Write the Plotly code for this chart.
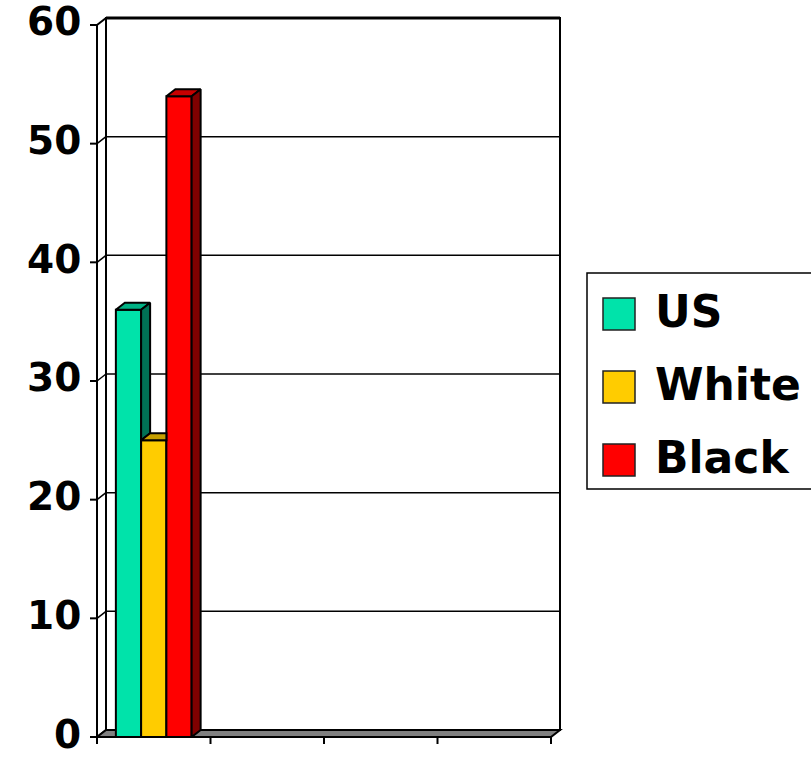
import plotly.graph_objects as go

# ---- data -------------------------------------------------------------
CATEGORY_POS = [0, 1, 2, 3]
SERIES = ["US", "White", "Black"]
US = [36, None, None, None]
WHITE = [25, None, None, None]
BLACK = [54, None, None, None]
Y_TICKS = [0, 10, 20, 30, 40, 50, 60]
COLORS = ["#00E3AA", "#FFCC00", "#FF0000"]

VALUES = [US, WHITE, BLACK]

# ---- geometry (pixels) ------------------------------------------------
W, H = 811, 758
PL, PR, PT, PB = 85, 563, 16, 747          # plot area edges
X0_PX, Y0_PX = 97, 737                     # front-left corner of the floor
UX = 113.5                                  # px per category
UY = 11.867                                 # px per y unit
DX_PX, DY_PX = 9, 7                         # 3-D depth offset

DXd = DX_PX / UX
DYd = DY_PX / UY
X_LO = -0.5 - (X0_PX - PL) / UX
X_HI = -0.5 + (PR - X0_PX) / UX
Y_LO = -(PB - Y0_PX) / UY
Y_HI = (Y0_PX - PT) / UY
Y_MAX = Y_TICKS[-1]
X_EDGES = [c - 0.5 for c in CATEGORY_POS] + [CATEGORY_POS[-1] + 0.5]
BAR_W = 0.2225

LABEL_FONT = dict(family="DejaVu Sans", color="black", weight="bold")


def px_to_paper(px, py):
    return (px - PL) / (PR - PL), (PB - py) / (PB - PT)


def shade(hex_color, f):
    r, g, b = (int(hex_color[i:i + 2], 16) for i in (1, 3, 5))
    return "rgb({},{},{})".format(int(r * f), int(g * f), int(b * f))


fig = go.Figure()

# front faces of the columns
for i, (name, vals, col) in enumerate(zip(SERIES, VALUES, COLORS)):
    fig.add_trace(go.Bar(
        x=CATEGORY_POS, y=vals, name=name,
        width=BAR_W, offset=-1.5 * BAR_W + i * BAR_W,
        marker=dict(color=col, line=dict(color="black", width=2)),
        showlegend=False,
    ))

# top and side faces of the columns
for j, cat in enumerate(CATEGORY_POS):
    hs = [v[j] for v in VALUES]
    for i, h in enumerate(hs):
        if h is None:
            continue
        xl = cat - 1.5 * BAR_W + i * BAR_W
        xr = xl + BAR_W
        nxt = hs[i + 1] if i + 1 < len(hs) and hs[i + 1] is not None else 0
        # top face (clipped where the next, taller column hides it)
        if nxt > h:
            tx = [xl, xl + DXd, xr, xr, xl]
        else:
            tx = [xl, xl + DXd, xr + DXd, xr, xl]
        ty = [h, h + DYd, h + DYd, h, h]
        fig.add_trace(go.Scatter(
            x=tx, y=ty, mode="lines", fill="toself",
            fillcolor=shade(COLORS[i], 0.78),
            line=dict(color="black", width=2), showlegend=False,
            hoverinfo="skip"))
        # right side face, down to the top of the next column
        if nxt < h:
            sx = [xr, xr + DXd, xr + DXd, xr, xr]
            sy = [h, h + DYd, nxt + DYd, nxt, h]
            fig.add_trace(go.Scatter(
                x=sx, y=sy, mode="lines", fill="toself",
                fillcolor=shade(COLORS[i], 0.5),
                line=dict(color="black", width=2), showlegend=False,
                hoverinfo="skip"))

shapes = []
annotations = []
blk = dict(color="black", width=2)
thin = dict(color="black", width=1.5)
xl_back = X_EDGES[0] + DXd
xr_back = X_EDGES[-1] + DXd

# back wall
shapes.append(dict(type="rect", xref="x", yref="y", layer="below",
                   x0=xl_back, x1=xr_back, y0=DYd, y1=Y_MAX + DYd,
                   line=blk, fillcolor="white"))
shapes.append(dict(type="line", xref="x", yref="y", layer="below",
                   x0=xl_back, x1=xr_back, y0=Y_MAX + DYd, y1=Y_MAX + DYd,
                   line=dict(color="black", width=3)))
# gridlines on the back wall and matching diagonals on the side wall
for v in Y_TICKS:
    if 0 < v < Y_MAX:
        shapes.append(dict(type="line", xref="x", yref="y", layer="below",
                           x0=xl_back, x1=xr_back, y0=v + DYd, y1=v + DYd,
                           line=thin))
    shapes.append(dict(type="line", xref="x", yref="y", layer="below",
                       x0=X_EDGES[0], x1=xl_back, y0=v, y1=v + DYd,
                       line=thin if 0 < v < Y_MAX else blk))
# front vertical axis line
shapes.append(dict(type="line", xref="x", yref="y", layer="below",
                   x0=X_EDGES[0], x1=X_EDGES[0], y0=0, y1=Y_MAX, line=blk))
# floor
shapes.append(dict(type="path", xref="x", yref="y", layer="below",
                   path="M {a},0 L {b},{d} L {c},{d} L {e},0 Z".format(
                       a=X_EDGES[0], b=xl_back, c=xr_back, d=DYd, e=X_EDGES[-1]),
                   fillcolor="#808080", line=blk))
# tick marks and value labels
lab_x, _ = px_to_paper(83, 0)
for v in Y_TICKS:
    shapes.append(dict(type="line", xref="x", yref="y",
                       x0=X_EDGES[0] - 7 / UX, x1=X_EDGES[0], y0=v, y1=v,
                       line=blk))
    annotations.append(dict(xref="paper", yref="y", x=lab_x, y=v,
                            xanchor="right", yanchor="middle", yshift=3,
                            showarrow=False, text=str(v),
                            font=dict(size=39, **LABEL_FONT)))
for c in X_EDGES:
    shapes.append(dict(type="line", xref="x", yref="y",
                       x0=c, x1=c, y0=0, y1=-7 / UY, line=blk))

# legend box
lx0, ly0 = px_to_paper(587, 489)
lx1, ly1 = px_to_paper(815, 273)
shapes.append(dict(type="rect", xref="paper", yref="paper",
                   x0=lx0, x1=lx1, y0=ly0, y1=ly1,
                   line=dict(color="black", width=1.5), fillcolor="white"))
for k, (name, col) in enumerate(zip(SERIES, COLORS)):
    cy = 314 + k * 73
    sx0, sy0 = px_to_paper(603, cy + 16)
    sx1, sy1 = px_to_paper(635, cy - 16)
    shapes.append(dict(type="rect", xref="paper", yref="paper",
                       x0=sx0, x1=sx1, y0=sy0, y1=sy1,
                       line=dict(color="#222222", width=1.5), fillcolor=col))
    tx, ty = px_to_paper(653, cy)
    annotations.append(dict(xref="paper", yref="paper", x=tx, y=ty,
                            xanchor="left", yanchor="middle", yshift=3,
                            showarrow=False, text=name,
                            font=dict(size=44, **LABEL_FONT)))

fig.update_layout(
    width=W, height=H,
    margin=dict(l=PL, r=W - PR, t=PT, b=H - PB, pad=0),
    paper_bgcolor="white", plot_bgcolor="white",
    barmode="overlay",
    shapes=shapes, annotations=annotations,
    showlegend=False,
    xaxis=dict(range=[X_LO, X_HI], showgrid=False, zeroline=False,
               showline=False, showticklabels=False, ticks=""),
    yaxis=dict(range=[Y_LO, Y_HI], showgrid=False, zeroline=False,
               showline=False, showticklabels=False, ticks=""),
)

fig.write_html("out.html")
